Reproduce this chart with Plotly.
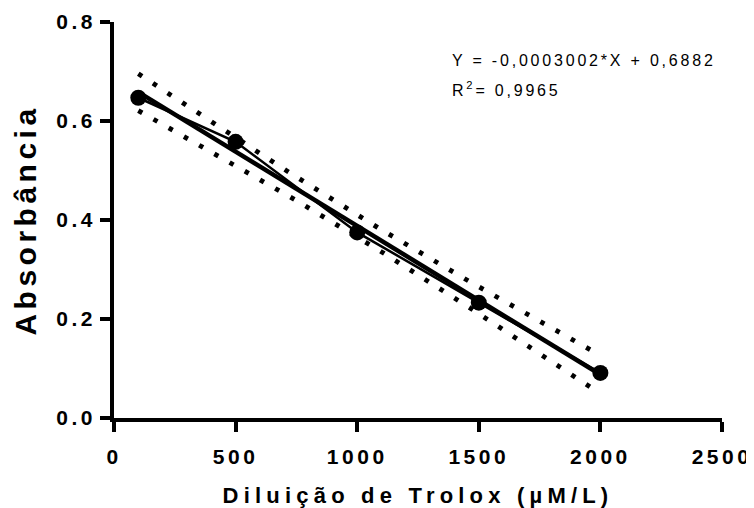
import numpy as np
import plotly.graph_objects as go

# ---- data ----
dilution = [100, 500, 1000, 1500, 2000]          # µM/L
absorbance = [0.647, 0.558, 0.375, 0.233, 0.091]

SLOPE = -0.0003002
INTERCEPT = 0.6882
EQ_TEXT = "Y = -0,0003002*X + 0,6882"
R2_TEXT = "R<sup>2</sup>= 0,9965"
T_CRIT = 3.182   # t(0.975, df=3)

x_tickvals = [0, 500, 1000, 1500, 2000, 2500]
x_ticktext = ["0", "500", "1000", "1500", "2000", "2500"]
y_tickvals = [0.0, 0.2, 0.4, 0.6, 0.8]
y_ticktext = ["0.0", "0.2", "0.4", "0.6", "0.8"]

# ---- regression line and 95% confidence band ----
x = np.array(dilution, dtype=float)
y = np.array(absorbance, dtype=float)
n = len(x)
resid = y - (SLOPE * x + INTERCEPT)
s = np.sqrt(np.sum(resid ** 2) / (n - 2))
sxx = np.sum((x - x.mean()) ** 2)
xfit = np.linspace(x.min(), x.max(), 200)
yfit = SLOPE * xfit + INTERCEPT
half = T_CRIT * s * np.sqrt(1.0 / n + (xfit - x.mean()) ** 2 / sxx)

FONT = "Arial, Liberation Sans, sans-serif"


def spaced(t, px):
    return f'<span style="letter-spacing:{px}px">{t}</span>'


fig = go.Figure()
band_line = dict(color="black", width=4.8, dash="4.5px,13px")
fig.add_trace(go.Scatter(x=xfit, y=yfit + half, mode="lines", line=band_line,
                         showlegend=False, hoverinfo="skip"))
fig.add_trace(go.Scatter(x=xfit, y=yfit - half, mode="lines", line=band_line,
                         showlegend=False, hoverinfo="skip"))
fig.add_trace(go.Scatter(x=[xfit[0], xfit[-1]], y=[yfit[0], yfit[-1]], mode="lines",
                         line=dict(color="black", width=4.5), showlegend=False))
fig.add_trace(go.Scatter(x=dilution, y=absorbance, mode="lines+markers",
                         line=dict(color="black", width=2.5),
                         marker=dict(size=16, color="black", symbol="circle"),
                         showlegend=False))

fig.add_annotation(xref="paper", yref="paper", x=0.553, y=0.902, xanchor="left",
                   yanchor="middle", showarrow=False,
                   text=spaced(EQ_TEXT, 2.8),
                   font=dict(family=FONT, size=16, color="black"))
fig.add_annotation(xref="paper", yref="paper", x=0.553, y=0.831, xanchor="left",
                   yanchor="middle", showarrow=False,
                   text=spaced(R2_TEXT, 2.8),
                   font=dict(family=FONT, size=16, color="black"))

axis_common = dict(showline=True, linecolor="black", linewidth=3.5,
                   ticks="outside", ticklen=10, tickwidth=3.5, tickcolor="black",
                   showgrid=False, zeroline=False, mirror=False,
                   tickfont=dict(family=FONT, size=21, color="black"))

fig.update_xaxes(range=[0, 2500], tickmode="array", tickvals=x_tickvals,
                 ticktext=["<b>" + spaced(t, 3.5) + "</b>" for t in x_ticktext],
                 ticklabelstandoff=7,
                 title=dict(text="<b>" + spaced("Diluição de Trolox (µM/L)", 5.2) + "</b>",
                            font=dict(family=FONT, size=22, color="black"),
                            standoff=23),
                 **axis_common)
fig.update_yaxes(range=[0, 0.8], tickmode="array", tickvals=y_tickvals,
                 ticktext=["<b>" + spaced(t, 3.5) + "</b>" for t in y_ticktext],
                 title=dict(text="<b>" + spaced("Absorbância", 4.5) + "</b>",
                            font=dict(family=FONT, size=30, color="black"),
                            standoff=12),
                 **axis_common)

# the page body has an 8px margin, so the figure is 8px smaller than the window
fig.update_layout(width=746, height=500, plot_bgcolor="white", paper_bgcolor="white",
                  margin=dict(l=106, r=32, t=14, b=90, autoexpand=False))

fig.write_html("out.html")
